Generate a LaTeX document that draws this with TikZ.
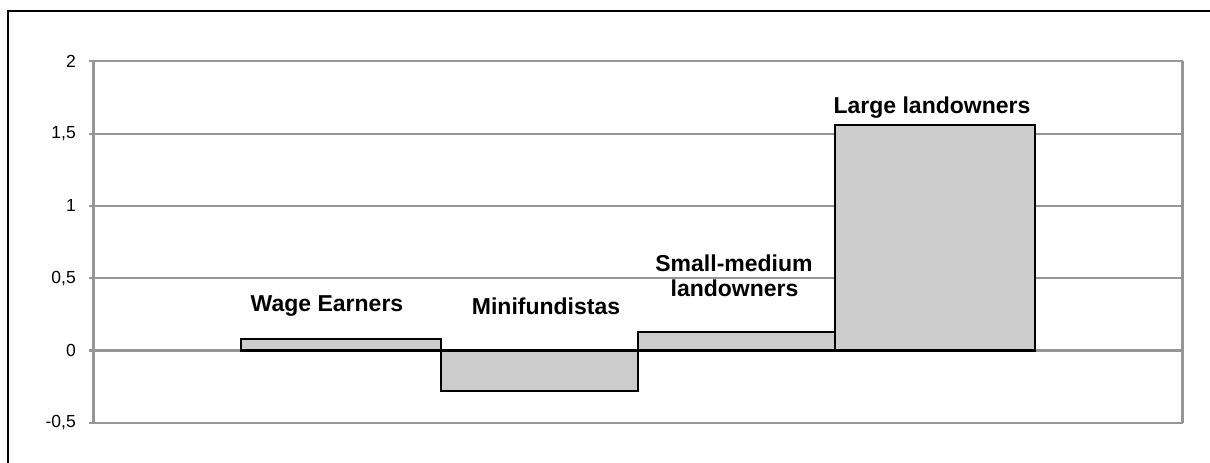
\documentclass[tikz,border=0pt]{standalone}
\usepackage{fontspec}
\setmainfont{Liberation Sans}
\begin{document}
\begin{tikzpicture}[x=1pt,y=-1pt,
  grid/.style={draw={rgb,255:red,150;green,150;blue,150},line width=2.2pt},
  barbox/.style={draw=black,line width=2.2pt,fill={rgb,255:red,204;green,204;blue,204}},
  frameline/.style={draw=black,line width=2.2pt},
  ticklab/.style={font=\fontsize{17.5}{19}\selectfont,anchor=east,inner sep=0pt},
  catlab/.style={font=\fontsize{23}{25}\selectfont\bfseries,anchor=base,inner sep=0pt}]
\useasboundingbox (0,0) rectangle (1210,463);
\def\yv#1{350.5-144.6*(#1)}
% outer frame (left and top)
\draw[frameline] (8,463) -- (8,11) -- (1210,11);
% gridlines and ticks
\foreach \v/\t in {2/2,1.5/{1,5},1/1,0.5/{0,5},0/0,-0.5/{-0,5}}{
  \draw[grid] (89,{\yv{\v}}) -- (1183,{\yv{\v}});
  \node[ticklab] at (76,{\yv{\v}}) {\t};
}
\draw[grid] (93.5,{\yv{2}}) -- (93.5,{\yv{-0.5}});
\draw[grid] (1182.5,{\yv{2}}) -- (1182.5,{\yv{-0.5}});
% bars
\draw[barbox] (241,{\yv{0}}) rectangle (441,{\yv{0.08}});
\draw[barbox] (441,{\yv{0}}) rectangle (638,{\yv{-0.28}});
\draw[barbox] (638,{\yv{0}}) rectangle (835,{\yv{0.128}});
\draw[barbox] (835,{\yv{0}}) rectangle (1035,{\yv{1.56}});
% labels
\node[catlab] (we) at (327,311.7) {Wage Earners};
\node[catlab] (mf) at (546,314) {Minifundistas};
\node[catlab] (sm1) at (734,271.7) {Small-medium};
\node[catlab] (sm2) at (734.5,296.7) {landowners};
\node[catlab] (ll) at (932,113.3) {Large landowners};
\end{tikzpicture}
\end{document}
